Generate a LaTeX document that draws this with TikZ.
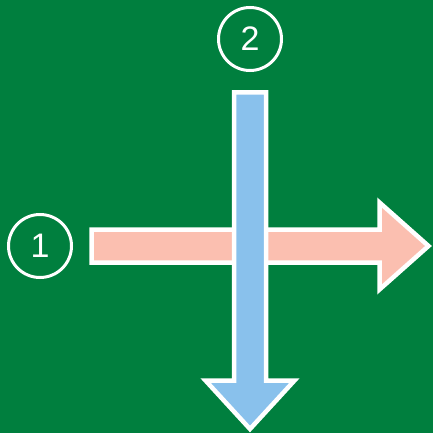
\documentclass[tikz,border=0pt]{standalone}
\usepackage{fontspec}
\setsansfont{Liberation Sans}
\usepackage{tikz}
\usepackage{xcolor}

\definecolor{bggreen}{RGB}{0,127,62}
\definecolor{arrowpink}{RGB}{251,191,176}
\definecolor{arrowblue}{RGB}{137,193,236}

\tikzset{
    badge/.style={circle, draw=white, line width=3pt, minimum size=63pt, inner sep=0pt,
        text=white, font=\sffamily\fontsize{34}{34}\selectfont},
    bigarrow/.style={draw=white, line width=4.5pt, line join=miter, miter limit=12}
}

\begin{document}
\begin{tikzpicture}[x=1pt, y=-1pt]
            % Background
            \fill[bggreen] (0,0) rectangle (433,433);
            \useasboundingbox (0,0) rectangle (433,433);

            % Nodes
            \node[badge] (1) at (40,246) {1};
            \node[badge] (2) at (250,39) {2};

            % Arrows
            \draw[bigarrow, fill=arrowpink] (91.5,229.5) -- (379.5,229.5) -- (379.5,202.5) -- (428.5,246)
                -- (379.5,289.5) -- (379.5,262.5) -- (91.5,262.5) -- cycle;
            \draw[bigarrow, fill=arrowblue] (234,92.5) -- (266,92.5) -- (266,380.5) -- (294.5,380.5)
                -- (250,429) -- (205.5,380.5) -- (234,380.5) -- cycle;
        \end{tikzpicture}
\end{document}
